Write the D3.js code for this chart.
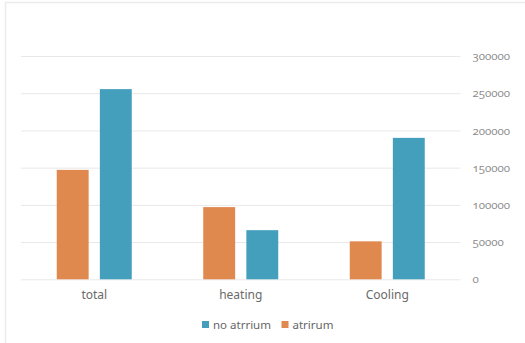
<!DOCTYPE html>
<html><head><meta charset="utf-8">
<script src="https://cdn.jsdelivr.net/npm/d3@7"></script>
<style>
html,body{margin:0;padding:0;background:#fff;}
svg{display:block;}
text{font-family:"Noto Sans","Open Sans",sans-serif;}
.ytick{font-family:"Open Sans","Noto Sans",sans-serif;font-feature-settings:"onum" 1;font-variant-numeric:oldstyle-nums;}
</style></head>
<body><svg id="c" width="525" height="343"></svg>
<script>
const categories = ["total", "heating", "Cooling"];
const seriesNames = ["atrirum", "no atrrium"];
const atrirum = [147000, 97000, 51000];
const noAtrrium = [255500, 66000, 190000];
const yTicks = [0, 50000, 100000, 150000, 200000, 250000, 300000];
const colors = {"atrirum": "#E0894F", "no atrrium": "#439FBC"};
const legendOrder = ["no atrrium", "atrirum"];

(function () {
const svg = d3.select("#c");
// light frame
svg.append("rect").attr("x", 5.5).attr("y", 2.5).attr("width", 530).attr("height", 350)
  .attr("fill", "#fff").attr("stroke", "#ececec").attr("stroke-width", 1.5);

const mLeft = 21, mRight = 460.5, mTop = 56, mBottom = 279.3;
const x = d3.scaleBand().domain(categories).range([mLeft, mRight]).paddingInner(0).paddingOuter(0);
const y = d3.scaleLinear().domain([0, 300000]).range([mBottom, mTop]);
const groupPad = (x.bandwidth() - 75) / 2;
const x1 = d3.scaleBand().domain(seriesNames).range([groupPad, x.bandwidth() - groupPad]).paddingInner(0.26).paddingOuter(0);

const yAxis = d3.axisRight(y).tickValues(yTicks).tickSize(-(mRight - mLeft)).tickFormat(d3.format("d")).tickPadding(12);
const gy = svg.append("g").attr("transform", `translate(${mRight},0)`).call(yAxis);
gy.select(".domain").remove();
gy.selectAll(".tick line").attr("stroke", "#e8e8e8").attr("stroke-width", 1);
gy.selectAll(".tick text").attr("class", "ytick").attr("fill", "#8a8a8a").attr("font-size", 11.5)
  .attr("font-family", null);

const data = categories.map((c, i) => ({cat: c, vals: [{s: "atrirum", v: atrirum[i]}, {s: "no atrrium", v: noAtrrium[i]}]}));
const g = svg.append("g").selectAll("g").data(data).join("g").attr("transform", d => `translate(${x(d.cat)},0)`);
g.selectAll("rect").data(d => d.vals).join("rect")
  .attr("x", d => x1(d.s)).attr("width", x1.bandwidth())
  .attr("y", d => y(d.v)).attr("height", d => y(0) - y(d.v))
  .attr("fill", d => colors[d.s]);

const xAxis = d3.axisBottom(x).tickSize(0).tickPadding(11);
const gx = svg.append("g").attr("transform", `translate(0,${mBottom})`).call(xAxis);
gx.select(".domain").remove();
gx.selectAll(".tick text").attr("fill", "#6a6a6a").attr("font-size", 12).attr("font-family", "\"Noto Sans\",sans-serif");

// legend
const leg = svg.append("g");
const legX = [202, 281.5];
legendOrder.forEach((s, i) => {
  leg.append("rect").attr("x", legX[i]).attr("y", 321).attr("width", 7).attr("height", 7).attr("fill", colors[s]);
  leg.append("text").attr("x", legX[i] + 11).attr("y", 324.5).attr("dy", "0.35em")
    .attr("font-size", 11.5).attr("fill", "#666").text(s);
});
})();
</script></body></html>
